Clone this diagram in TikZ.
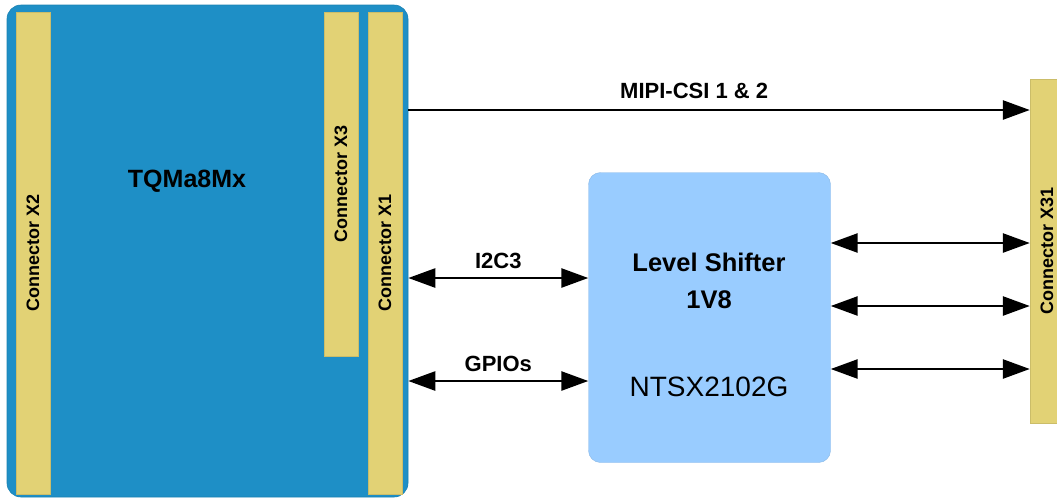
\documentclass[tikz,border=0pt]{standalone}
\usepackage{fontspec}
\setmainfont{Liberation Sans}
\usetikzlibrary{arrows.meta,positioning}
\definecolor{modblue}{RGB}{30,143,198}
\definecolor{conyellow}{RGB}{226,210,117}
\definecolor{lsblue}{RGB}{153,204,255}

\begin{document}
\begin{tikzpicture}[x=1pt,y=-1pt,
  mod/.style={rounded corners=14pt,fill=modblue,draw=modblue!90!black,line width=.6pt,inner sep=0pt},
  con/.style={fill=conyellow,draw=conyellow!90!black,line width=.4pt,rotate=90,minimum height=34pt,inner sep=0pt,
    font=\fontsize{18}{20}\selectfont\bfseries},
  ls/.style={rounded corners=12pt,fill=lsblue,draw=lsblue!90!black,line width=.4pt,minimum width=242pt,minimum height=290pt},
  lbl/.style={font=\fontsize{22}{24}\selectfont\bfseries,inner sep=0pt},
  a/.style={-{Triangle[length=27pt,width=19pt]},line width=2.6pt},
  aa/.style={{Triangle[length=27pt,width=19pt]}-{Triangle[length=27pt,width=19pt]},line width=2.6pt}]
  \useasboundingbox (0,0) rectangle (1057,499);
  % module with its connectors
  \node[mod,minimum width=401pt,minimum height=492pt] (mod) at (207.5,251) {};
  \node[font=\fontsize{25}{28}\selectfont\bfseries] (modname) at (187,181) {TQMa8Mx};
  \node[con,minimum width=482pt] (x2) at (33,253) {Connector X2};
  \node[con,minimum width=344pt] (x3) at (341,184) {Connector X3};
  \node[con,minimum width=482pt] (x1) at (385,253) {Connector X1};
  % level shifter
  \node[ls] (ls) at (709.5,317.5) {};
  \node[align=center,font=\fontsize{25.5}{37}\selectfont\bfseries] (lsname) at (709,280.5) {Level Shifter\\1V8};
  \node[font=\fontsize{28}{32}\selectfont] (lspart) at (709,387) {NTSX2102G};
  % connector on the carrier
  \node[con,minimum width=344pt] (x31) at (1047,251) {Connector X31};
  % signals
  \draw[a] (mod.east |- 0,110) -- node[lbl,pos=.46,above=10pt] {MIPI-CSI 1 \& 2} (x31.north |- 0,110);
  \draw[aa] (mod.east |- 0,278) -- node[lbl,above=8pt] {I2C3} (ls.west |- 0,278);
  \draw[aa] (mod.east |- 0,381) -- node[lbl,above=8pt] {GPIOs} (ls.west |- 0,381);
  \foreach \y in {243,306,369}
    \draw[aa] (ls.east |- 0,\y) -- (x31.north |- 0,\y);
\end{tikzpicture}
\end{document}
